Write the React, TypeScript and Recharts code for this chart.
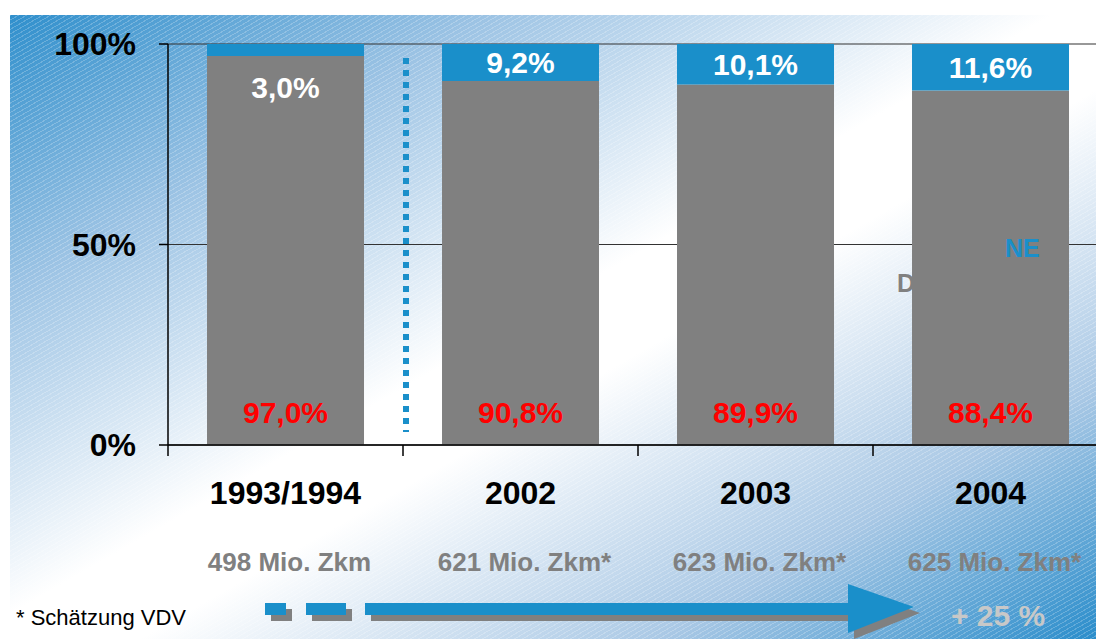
import { BarChart, Bar, XAxis, YAxis, CartesianGrid, LabelList } from "recharts";

const categories = ["1993/1994", "2002", "2003", "2004"];
const dbShare = [97.0, 90.8, 89.9, 88.4];
const neShare = [3.0, 9.2, 10.1, 11.6];
const volumeLabels = ["498 Mio. Zkm", "621 Mio. Zkm*", "623 Mio. Zkm*", "625 Mio. Zkm*"];
const yTicks = [0, 50, 100];

const data = categories.map((c, i) => ({ year: c, db: dbShare[i], ne: neShare[i] }));

const FONT = "'Liberation Sans', Arial, sans-serif";
const BLUE = "#1a8fca";
const GRAY = "#808080";

// layout
const CHART_W = 1130;
const CHART_H = 595;
const LEFT = 168;
const RIGHT = 22;
const TOP = 44;
const AXIS_Y = 445;
const BAND = (CHART_W - LEFT - RIGHT) / categories.length;

const fmt = (v: number) => v.toFixed(1).replace(".", ",") + "%";

const DbLabel = (props: any) => {
  const { x, y, width, height, value } = props;
  return (
    <text
      x={x + width / 2}
      y={y + height - 33}
      textAnchor="middle"
      dominantBaseline="central"
      fill="#ff0000"
      fontSize={30}
      fontWeight="bold"
      fontFamily={FONT}
    >
      {fmt(value)}
    </text>
  );
};

const NeLabel = (props: any) => {
  const { x, y, width, height, value } = props;
  const cy = height < 20 ? y + height + 31 : y + height / 2;
  return (
    <text
      x={x + width / 2}
      y={cy}
      textAnchor="middle"
      dominantBaseline="central"
      fill="#ffffff"
      fontSize={30}
      fontWeight="bold"
      fontFamily={FONT}
    >
      {fmt(value)}
    </text>
  );
};

const YearTick = (props: any) => {
  const { x, y, payload } = props;
  const i = categories.indexOf(payload.value);
  const bx = x - BAND / 2;
  return (
    <g>
      <line x1={bx} y1={y} x2={bx} y2={y + 11} stroke="#000" strokeWidth={1.5} />
      <text
        x={x}
        y={y + 48}
        textAnchor="middle"
        dominantBaseline="central"
        fill="#000"
        fontSize={32}
        fontWeight="bold"
        fontFamily={FONT}
      >
        {payload.value}
      </text>
      <text
        x={x + 4}
        y={y + 117}
        textAnchor="middle"
        dominantBaseline="central"
        fill={GRAY}
        fontSize={26}
        fontWeight="bold"
        fontFamily={FONT}
      >
        {volumeLabels[i]}
      </text>
    </g>
  );
};

export default function App() {
  const dotX = LEFT + BAND + 3;
  return (
    <div
      style={{
        position: "absolute",
        left: 0,
        top: 0,
        width: 1096,
        height: 639,
        overflow: "hidden",
        background: "#fff",
        fontFamily: FONT,
      }}
    >
      <div
        style={{
          position: "absolute",
          left: 10,
          top: 15,
          width: 1086,
          height: 624,
          background:
            "repeating-linear-gradient(150deg, rgba(255,255,255,0.22) 0px, rgba(255,255,255,0.22) 1px, rgba(255,255,255,0) 1px, rgba(255,255,255,0) 4px), linear-gradient(to bottom right, #2f8fcc 0%, #9cc3e4 22%, #ffffff 48%, #ffffff 56%, #a9c8e5 80%, #2a8dcb 100%)",
        }}
      />
      <div
        style={{
          position: "absolute",
          left: 897,
          top: 268,
          fontSize: 25,
          fontWeight: "bold",
          color: GRAY,
          lineHeight: "30px",
        }}
      >
        DB
      </div>
      <div style={{ position: "absolute", left: 0, top: 0 }}>
        <BarChart
          width={CHART_W}
          height={CHART_H}
          data={data}
          margin={{ top: TOP, right: RIGHT, left: 0, bottom: 0 }}
          barCategoryGap="16.6%"
        >
          <CartesianGrid vertical={false} stroke="#333" strokeWidth={1.2} />
          <XAxis
            dataKey="year"
            height={CHART_H - AXIS_Y}
            tickSize={0}
            tickMargin={0}
            tickLine={false}
            axisLine={{ stroke: "#000", strokeWidth: 1.5 }}
            tick={<YearTick />}
            interval={0}
          />
          <YAxis
            width={LEFT}
            domain={[0, 100]}
            ticks={yTicks}
            tickFormatter={(v: number) => v + "%"}
            tickSize={9}
            tickMargin={23}
            tickLine={{ stroke: "#000", strokeWidth: 1.5 }}
            axisLine={{ stroke: "#000", strokeWidth: 1.5 }}
            tick={{ fill: "#000", fontSize: 32, fontWeight: "bold", fontFamily: FONT }}
          />
          <Bar dataKey="db" stackId="a" fill={GRAY} isAnimationActive={false}>
            <LabelList dataKey="db" content={<DbLabel />} />
          </Bar>
          <Bar dataKey="ne" stackId="a" fill={BLUE} isAnimationActive={false}>
            <LabelList dataKey="ne" content={<NeLabel />} />
          </Bar>
        </BarChart>
      </div>
      <svg
        width={1096}
        height={639}
        style={{ position: "absolute", left: 0, top: 0, pointerEvents: "none" }}
      >
        <line
          x1={dotX}
          y1={58}
          x2={dotX}
          y2={432}
          stroke={BLUE}
          strokeWidth={6}
          strokeDasharray="6 6"
        />
        <g fill={GRAY} transform="translate(6,6)">
          <rect x={265} y={603} width={21} height={12} />
          <rect x={306} y={603} width={40} height={12} />
          <rect x={365} y={603} width={485} height={12} />
          <polygon points="848,584 914,607 848,633" />
        </g>
        <g fill={BLUE}>
          <rect x={265} y={603} width={21} height={12} />
          <rect x={306} y={603} width={40} height={12} />
          <rect x={365} y={603} width={485} height={12} />
          <polygon points="848,584 914,607 848,633" />
        </g>
        <text
          x={951}
          y={615}
          dominantBaseline="central"
          fill="#c8c8c8"
          fontSize={30}
          fontWeight="bold"
          fontFamily={FONT}
        >
          + 25 %
        </text>
        <text
          x={16}
          y={617}
          dominantBaseline="central"
          fill="#000"
          fontSize={22}
          fontFamily={FONT}
        >
          * Schätzung VDV
        </text>
        <text
          x={1005}
          y={248}
          dominantBaseline="central"
          fill={BLUE}
          fontSize={25}
          fontWeight="bold"
          fontFamily={FONT}
        >
          NE
        </text>
      </svg>
    </div>
  );
}
